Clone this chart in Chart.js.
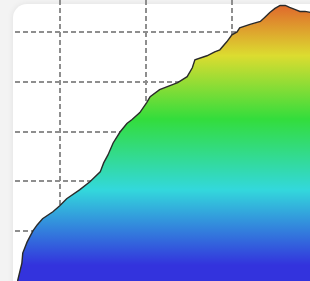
<!DOCTYPE html>
<html>
<head>
<meta charset="utf-8">
<script src="https://cdn.jsdelivr.net/npm/chart.js@4"></script>
<style>
    html, body { margin: 0; padding: 0; width: 310px; height: 281px; overflow: hidden; background: #f3f3f3; }
    .card { position: absolute; left: 13px; top: 4px; width: 400px; height: 400px; background: #fff; border-radius: 14px; box-shadow: 0 0 6px rgba(0, 0, 0, 0.08); }
    .wrap { position: absolute; left: 15px; top: -8px; width: 303px; height: 289px; }
</style>
</head>
<body>
<div class="card"></div>
<div class="wrap"><canvas id="profileChart"></canvas></div>
<script>
// Elevation profile (distance in km, elevation in m)
const distanceKm = [0.51, 0.56, 0.57, 0.62, 0.65, 0.69, 0.74, 0.80, 0.92, 1.00,
    1.08, 1.23, 1.35, 1.47, 1.51, 1.56, 1.62, 1.70, 1.78, 1.84,
    1.93, 2.01, 2.05, 2.16, 2.28, 2.37, 2.48, 2.54, 2.57, 2.71,
    2.80, 2.86, 2.94, 3.00, 3.06, 3.09, 3.21, 3.33, 3.38, 3.44,
    3.50, 3.56, 3.62, 3.67, 3.73, 3.79, 3.85, 3.91, 4.00];
const elevationM = [0, 36, 56, 78, 88, 101, 113, 125, 139, 151,
    165, 183, 199, 219, 237, 253, 277, 299, 316, 324,
    338, 358, 370, 384, 392, 398, 410, 428, 444, 452,
    460, 464, 480, 494, 500, 508, 515, 521, 529, 539,
    547, 553, 553, 549, 545, 541, 541, 539, 537];

const xMin = 0.48, xMax = 4.0;
const yMin = 0, yMax = 580;

const gradientStops = [
    [0.045, '#e0682c'],
    [0.22, '#dcdc30'],
    [0.44, '#33dd3c'],
    [0.685, '#33d8dc'],
    [0.945, '#3333dd']
];

function areaGradient(context) {
    const chart = context.chart;
    const area = chart.chartArea;
    if (!area) return '#33dd3c';
    const g = chart.ctx.createLinearGradient(0, area.top, 0, area.bottom);
    gradientStops.forEach(s => g.addColorStop(s[0], s[1]));
    return g;
}

// hide the line sitting on the bottom edge
const gridColor = ctx => (ctx.tick && ctx.tick.value === 0) ? 'rgba(0,0,0,0)' : '#8e8e8e';

new Chart(document.getElementById('profileChart'), {
    type: 'line',
    data: {
        datasets: [{
            data: distanceKm.map((d, i) => ({ x: d, y: elevationM[i] })),
            borderColor: '#2a2a2a',
            borderWidth: 1.4,
            backgroundColor: areaGradient,
            fill: 'origin',
            pointRadius: 0,
            tension: 0
        }]
    },
    options: {
        responsive: true,
        maintainAspectRatio: false,
        animation: false,
        layout: { padding: 0 },
        plugins: {
            legend: { display: false },
            tooltip: { enabled: false }
        },
        scales: {
            x: {
                type: 'linear',
                min: xMin,
                max: xMax,
                ticks: { display: false, stepSize: 1, includeBounds: false },
                grid: { color: gridColor, lineWidth: 2, drawTicks: false },
                border: { display: false, dash: [5, 3] }
            },
            y: {
                min: yMin,
                max: yMax,
                ticks: { display: false, stepSize: 100, includeBounds: false },
                grid: { color: gridColor, lineWidth: 2, drawTicks: false },
                border: { display: false, dash: [5, 3] }
            }
        }
    }
});
</script>
</body>
</html>
